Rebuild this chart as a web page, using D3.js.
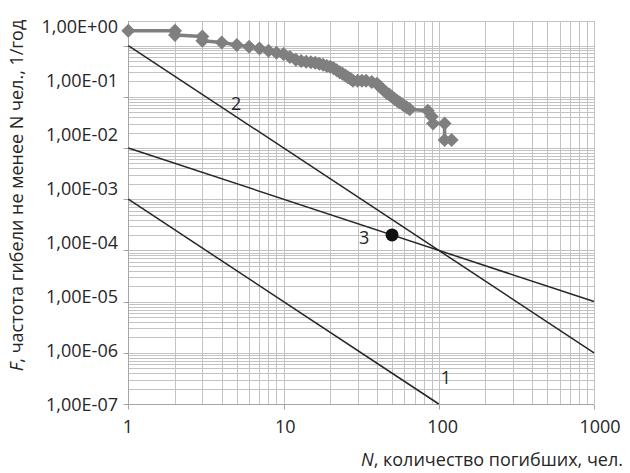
<!DOCTYPE html>
<html><head><meta charset="utf-8">
<script src="https://cdn.jsdelivr.net/npm/d3@7"></script>
<style>
html,body{margin:0;padding:0;background:#fff;}
svg{display:block;font-family:"Open Sans","Noto Sans",sans-serif;}
</style></head>
<body>
<svg id="c" width="630" height="473"></svg>
<script>
// ---- data ----
const seriesN = [1, 2, 2, 3, 3, 4, 5, 6, 7, 8, 9, 10, 11, 12, 13, 14, 15, 16, 17, 18, 19, 20, 21, 22, 23, 24, 25, 26, 27, 28, 30, 32, 34, 37, 40, 42, 44, 46, 48, 50, 52, 54, 56, 59, 62, 65, 85, 90, 92, 109, 109, 121];
const seriesF = [1.95, 1.95, 1.6, 1.5, 1.24, 1.15, 1.02, 0.95, 0.88, 0.79, 0.72, 0.68, 0.60, 0.53, 0.50, 0.48, 0.47, 0.46, 0.44, 0.42, 0.40, 0.385, 0.36, 0.33, 0.30, 0.28, 0.26, 0.24, 0.225, 0.205, 0.205, 0.205, 0.205, 0.195, 0.18, 0.155, 0.135, 0.12, 0.11, 0.10, 0.09, 0.083, 0.077, 0.069, 0.062, 0.057, 0.053, 0.041, 0.030, 0.030, 0.0143, 0.0143];
// criterion lines (start / end points)
const line1 = {name: "1", N: [1, 100], F: [1e-3, 1e-7], labelN: 111, labelF: 3.2e-7};
const line2 = {name: "2", N: [1, 1000], F: [1, 1e-6], labelN: 4.95, labelF: 0.072};
const line3 = {name: "3", N: [1, 1000], F: [1e-2, 1e-5], labelN: 33, labelF: 1.75e-4};
const criterionLines = [line1, line2, line3];
const pointN = [50];
const pointF = [2e-4];
const xTickValues = [1, 10, 100, 1000];
const xTickLabels = ["1", "10", "100", "1000"];
const yTickValues = [1, 1e-1, 1e-2, 1e-3, 1e-4, 1e-5, 1e-6, 1e-7];
const yTickLabels = ["1,00E+00", "1,00E-01", "1,00E-02", "1,00E-03", "1,00E-04", "1,00E-05", "1,00E-06", "1,00E-07"];
const xTitle = ["N", ", количество погибших, чел."];
const yTitle = ["F", ", частота гибели не менее N чел., 1/год"];

// ---- scales ----
const L = 128.3, R = 594, T = 21.1, B = 404;
const x = d3.scaleLog().domain([1, 1000]).range([L, R]);
const y = d3.scaleLog().domain([1e-7, 3]).range([B, T]);
// label placement scales (labels in the reference are spread slightly differently)
const xLab = d3.scaleLog().domain([1, 1000]).range([127.8, 600]);
const yLab = d3.scaleLog().domain([1e-7, 1]).range([405, 27]);

const svg = d3.select("#c");
const px = v => Math.round(v) + 0.5;

// grid values
const xGrid = [];
for (let e = 0; e <= 2; e++) for (let k = 1; k <= 9; k++) xGrid.push(k * Math.pow(10, e));
xGrid.push(1000);
const yGrid = [];
for (let e = -7; e <= -1; e++) for (let k = 1; k <= 9; k++) yGrid.push(k * Math.pow(10, e));
yGrid.push(1);

const grid = svg.append("g").attr("stroke", "#c3c3c3").attr("stroke-width", 1);
grid.selectAll(".gx").data(xGrid).join("line")
  .attr("x1", d => px(x(d))).attr("x2", d => px(x(d)))
  .attr("y1", T).attr("y2", B);
grid.selectAll(".gy").data(yGrid).join("line")
  .attr("x1", L).attr("x2", R)
  .attr("y1", d => px(y(d))).attr("y2", d => px(y(d)));
// top border
grid.append("line").attr("x1", L).attr("x2", R).attr("y1", px(T)).attr("y2", px(T));

// axes
const ax = svg.append("g").attr("stroke", "#a6a6a6").attr("stroke-width", 1);
ax.append("line").attr("x1", px(L)).attr("x2", px(L)).attr("y1", T).attr("y2", B + 0.5);
ax.append("line").attr("x1", L).attr("x2", R).attr("y1", px(B)).attr("y2", px(B));
ax.selectAll(".ty").data(yTickValues).join("line")
  .attr("x1", px(L) - 5).attr("x2", px(L))
  .attr("y1", d => px(y(d))).attr("y2", d => px(y(d)));
ax.selectAll(".tx").data(xTickValues).join("line")
  .attr("x1", d => px(x(d))).attr("x2", d => px(x(d)))
  .attr("y1", px(B)).attr("y2", px(B) + 5);

// tick labels
svg.append("g").selectAll("text").data(yTickValues).join("text")
  .attr("x", 118).attr("y", d => yLab(d)).attr("dy", "0.35em")
  .attr("text-anchor", "end").attr("font-size", 18).attr("fill", "#262626")
  .text((d, i) => yTickLabels[i]);
svg.append("g").selectAll("text").data(xTickValues).join("text")
  .attr("x", d => xLab(d)).attr("y", 433)
  .attr("text-anchor", "middle").attr("font-size", 18).attr("fill", "#262626")
  .text((d, i) => xTickLabels[i]);

// criterion lines
const lineGen = d3.line().x(d => x(d[0])).y(d => y(d[1]));
svg.append("g").selectAll("path").data(criterionLines).join("path")
  .attr("d", d => lineGen(d.N.map((n, i) => [n, d.F[i]])))
  .attr("fill", "none").attr("stroke", "#262626").attr("stroke-width", 1.5);
svg.append("g").selectAll("text").data(criterionLines).join("text")
  .attr("x", d => x(d.labelN)).attr("y", d => y(d.labelF)).attr("dy", "0.35em")
  .attr("text-anchor", "middle").attr("font-size", 18).attr("fill", "#262626")
  .text(d => d.name);

// statistical series
const pts = seriesN.map((n, i) => [n, seriesF[i]]);
svg.append("path").attr("d", lineGen(pts))
  .attr("fill", "none").attr("stroke", "#7f7f7f").attr("stroke-width", 3.5)
  .attr("stroke-linejoin", "round");
const sym = d3.symbol().type(d3.symbolSquare).size(98);
svg.append("g").selectAll("path").data(pts).join("path")
  .attr("d", sym)
  .attr("transform", d => `translate(${x(d[0])},${y(d[1])}) rotate(45)`)
  .attr("fill", "#7f7f7f");

// black point
svg.append("g").selectAll("circle").data(pointN).join("circle")
  .attr("cx", d => x(d)).attr("cy", (d, i) => y(pointF[i])).attr("r", 6.5)
  .attr("fill", "#111");

// axis titles
const xt = svg.append("text").attr("x", 623).attr("y", 466)
  .attr("text-anchor", "end").attr("font-size", 18).attr("fill", "#262626");
xt.append("tspan").attr("font-style", "italic").text(xTitle[0]);
xt.append("tspan").text(xTitle[1]);
const yt = svg.append("text").attr("transform", "translate(23,195.5) rotate(-90)")
  .attr("text-anchor", "middle").attr("font-size", 18).attr("fill", "#262626");
yt.append("tspan").attr("font-style", "italic").text(yTitle[0]);
yt.append("tspan").text(yTitle[1]);
</script>
</body></html>
